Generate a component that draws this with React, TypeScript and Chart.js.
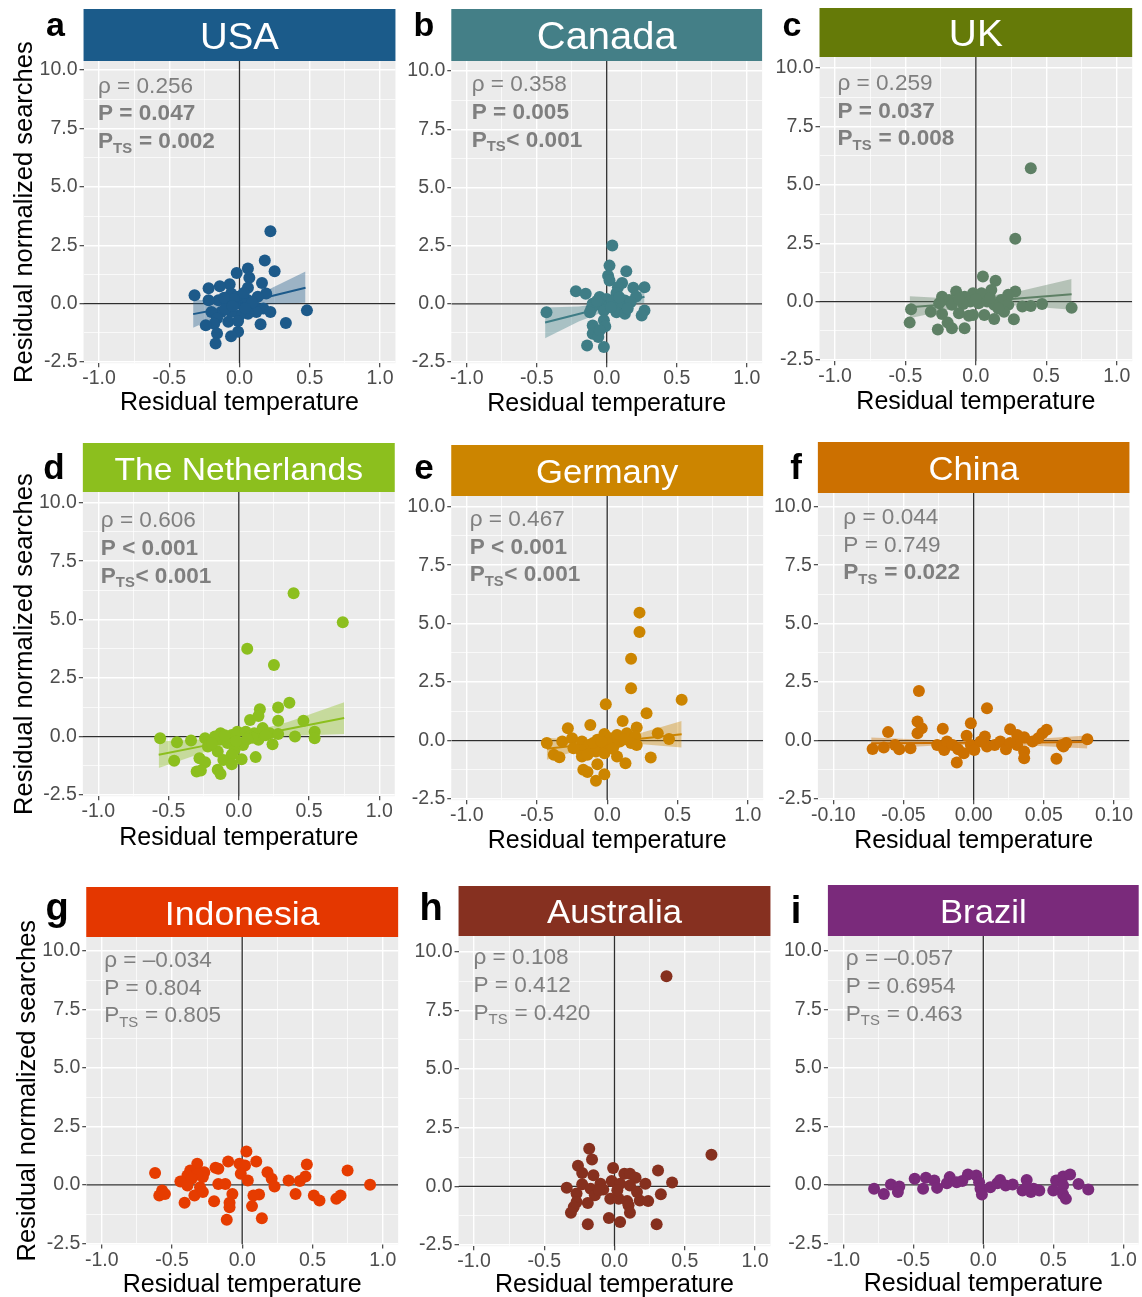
import React, { useEffect, useRef } from 'react';
import { Chart, registerables } from 'chart.js';

Chart.register(...registerables);

const FONT = "'Liberation Sans', Arial, Helvetica, sans-serif";

// ---------- axes ----------
const Y_TICKS = [-2.5, 0, 2.5, 5, 7.5, 10];
const Y_TICK_LABELS = ['-2.5', '0.0', '2.5', '5.0', '7.5', '10.0'];
const Y_MINOR = [-1.25, 1.25, 3.75, 6.25, 8.75];
const X_TICKS = [-1, -0.5, 0, 0.5, 1];
const X_TICK_LABELS = ['-1.0', '-0.5', '0.0', '0.5', '1.0'];
const X_MINOR = [-0.75, -0.25, 0.25, 0.75];
const X_TICKS_CN = [-0.1, -0.05, 0, 0.05, 0.1];
const X_TICK_LABELS_CN = ['-0.10', '-0.05', '0.00', '0.05', '0.10'];
const X_MINOR_CN = [-0.075, -0.025, 0.025, 0.075];
const X_TITLE = 'Residual temperature';
const Y_TITLE = 'Residual normalized searches';

// ---------- USA ----------
const USA_X = [0.22,0.18,0.25,0.06,-0.02,0.07,0.16,0.06,-0.07,-0.14,-0.22,-0.32,0.19,0.13,-0.06,-0.02,0.01,-0.03,-0.08,-0.15,-0.22,0.06,0.11,0.17,0.22,0.12,0.06,0.00,-0.06,-0.13,-0.20,-0.16,-0.08,-0.01,-0.18,-0.24,0.15,0.33,0.48,-0.16,-0.01,-0.06,-0.17,-0.10,0.03,-0.04,0.09,-0.11,0.04,-0.05];
const USA_Y = [3.10,1.85,1.38,1.50,1.31,1.11,0.88,0.68,0.83,0.74,0.66,0.36,0.43,0.29,0.43,0.29,0.07,-0.03,0.07,0.14,0.14,0.14,-0.14,-0.21,-0.36,-0.36,-0.43,-0.50,-0.36,-0.36,-0.36,-0.64,-0.78,-0.74,-0.86,-0.93,-0.88,-0.83,-0.29,-1.28,-1.21,-1.40,-1.71,-0.21,0.45,0.20,0.05,0.25,-0.20,-0.10];
const USA_FIT_X = [-0.33, -0.15, 0.0, 0.2, 0.47];
const USA_FIT_Y = [-0.45, -0.24, -0.02, 0.28, 0.68];
const USA_FIT_LO = [-1.03, -0.54, -0.18, -0.02, 0.04];
const USA_FIT_HI = [0.20, 0.06, 0.14, 0.58, 1.37];
const USA_STATS = ['0.256', '= 0.047', ' = 0.002'];
const USA_BOLD = [false, true, true];

// ---------- Canada ----------
const CAN_X = [0.04,0.02,0.01,0.14,0.02,0.11,0.08,0.19,0.27,-0.22,-0.15,0.21,0.07,-0.05,0.00,0.05,0.13,-0.10,-0.05,0.02,0.10,-0.11,-0.02,0.07,0.13,0.27,0.25,-0.43,-0.12,-0.02,-0.10,-0.01,-0.10,-0.06,-0.14,-0.02,-0.05,0.17,0.04,-0.07,0.09,0.15,0.03];
const CAN_Y = [2.50,1.64,1.21,1.40,1.00,0.89,0.71,0.69,0.71,0.54,0.43,0.31,0.46,0.29,0.21,0.17,0.14,0.00,-0.03,-0.07,-0.07,-0.21,-0.29,-0.36,-0.43,-0.29,-0.50,-0.36,-0.36,-0.71,-0.93,-0.97,-1.29,-1.43,-1.79,-1.86,-1.14,0.07,0.10,0.12,0.28,-0.20,-0.15];
const CAN_FIT_X = [-0.44, -0.2, 0.03, 0.15, 0.27];
const CAN_FIT_Y = [-0.80, -0.44, -0.08, 0.11, 0.30];
const CAN_FIT_LO = [-1.48, -0.76, -0.22, -0.09, 0.04];
const CAN_FIT_HI = [-0.16, -0.12, 0.06, 0.31, 0.56];
const CAN_STATS = ['0.358', '= 0.005', '< 0.001'];
const CAN_BOLD = [false, true, true];

// ---------- UK ----------
const UK_X = [0.39,0.28,0.05,0.14,0.11,-0.14,-0.24,0.28,0.23,-0.02,0.04,-0.08,-0.19,-0.04,0.08,0.18,-0.26,-0.17,-0.09,0.02,0.13,0.23,0.33,0.39,0.47,0.68,-0.46,-0.32,-0.24,-0.12,-0.02,0.06,0.13,0.27,-0.05,-0.47,-0.20,-0.17,-0.27,-0.08,0.20,0.10,-0.12,0.00,0.16];
const UK_Y = [5.71,2.69,1.07,0.89,0.50,0.43,0.21,0.43,0.29,0.36,0.36,0.21,0.07,0.00,0.00,0.07,-0.07,-0.14,-0.10,-0.07,-0.14,-0.14,-0.21,-0.19,-0.10,-0.26,-0.33,-0.43,-0.53,-0.50,-0.57,-0.57,-0.74,-0.76,-0.61,-0.90,-0.90,-1.14,-1.19,-1.14,-0.43,0.15,0.12,0.10,-0.30];
const UK_FIT_X = [-0.47, -0.2, 0.0, 0.3, 0.68];
const UK_FIT_Y = [-0.24, -0.11, -0.01, 0.13, 0.31];
const UK_FIT_LO = [-0.71, -0.36, -0.19, -0.17, -0.35];
const UK_FIT_HI = [0.23, 0.14, 0.17, 0.43, 0.97];
const UK_STATS = ['0.259', '= 0.037', ' = 0.008'];
const UK_BOLD = [false, true, true];

// ---------- The Netherlands ----------
const NL_X = [0.39,0.74,0.06,0.25,0.36,0.15,0.28,0.46,0.08,0.14,0.28,-0.56,-0.44,-0.34,-0.24,-0.20,-0.13,-0.05,-0.01,0.05,0.11,0.17,0.22,0.28,0.40,0.54,0.54,0.24,-0.14,-0.08,-0.22,-0.15,-0.03,0.03,0.14,-0.05,-0.11,0.02,0.12,-0.28,-0.24,-0.46,-0.05,-0.30,-0.27,-0.15,-0.13,-0.17,-0.10,0.08,0.19,-0.02,0.10,-0.19,0.06];
const NL_Y = [6.13,4.89,3.75,3.06,1.45,1.17,1.24,0.68,0.71,0.88,0.68,-0.07,-0.24,-0.17,-0.07,-0.21,0.14,0.07,0.21,0.21,0.14,0.36,0.14,0.11,0.00,0.21,-0.07,-0.33,-0.14,-0.28,-0.43,-0.64,-0.57,-0.36,-0.14,-0.78,-1.00,-0.97,-0.88,-0.93,-1.10,-1.04,-1.18,-1.50,-1.45,-1.42,-1.60,0.00,0.05,0.00,0.05,-0.20,-0.05,-0.30,-0.12];
const NL_FIT_X = [-0.57, -0.25, 0.0, 0.35, 0.75];
const NL_FIT_Y = [-0.78, -0.40, -0.10, 0.32, 0.79];
const NL_FIT_LO = [-1.35, -0.68, -0.27, 0.02, 0.11];
const NL_FIT_HI = [-0.21, -0.12, 0.07, 0.62, 1.47];
const NL_STATS = ['0.606', '< 0.001', '< 0.001'];
const NL_BOLD = [false, true, true];

// ---------- Germany ----------
const DE_X = [0.23,0.23,0.17,0.17,0.53,-0.01,0.28,0.11,-0.12,-0.28,0.21,0.36,0.44,-0.43,-0.32,-0.25,-0.18,-0.13,-0.07,-0.02,0.02,0.07,0.14,0.20,0.17,0.09,0.05,-0.05,-0.08,-0.02,-0.19,-0.24,-0.38,-0.34,-0.18,-0.14,0.07,0.13,0.31,0.21,-0.07,-0.17,-0.14,-0.02,-0.08,0.00,-0.10,0.12,-0.04,0.04];
const DE_Y = [5.47,4.64,3.50,2.24,1.74,1.55,1.17,0.84,0.66,0.53,0.56,0.31,0.07,-0.11,-0.04,0.10,-0.04,-0.19,0.03,0.28,0.10,0.24,0.31,0.17,-0.11,-0.04,-0.19,-0.26,-0.47,-0.54,-0.40,-0.33,-0.61,-0.71,-0.68,-0.61,-0.68,-0.97,-0.73,-0.19,-1.01,-1.25,-1.35,-1.44,-1.72,-0.11,-0.10,0.05,-0.05,-0.35];
const DE_FIT_X = [-0.43, -0.2, 0.0, 0.25, 0.53];
const DE_FIT_Y = [-0.35, -0.20, -0.07, 0.09, 0.27];
const DE_FIT_LO = [-0.82, -0.42, -0.21, -0.16, -0.30];
const DE_FIT_HI = [0.12, 0.02, 0.07, 0.34, 0.84];
const DE_STATS = ['0.467', '< 0.001', '< 0.001'];
const DE_BOLD = [false, true, true];

// ---------- China ----------
const CN_X = [-0.039,0.0095,-0.040,-0.037,-0.040,-0.061,-0.022,-0.002,0.026,0.052,0.049,0.008,-0.005,0.031,0.036,-0.072,-0.064,-0.056,-0.053,-0.045,-0.026,-0.021,-0.019,-0.015,-0.011,-0.007,-0.012,-0.002,0.0005,0.0095,0.015,0.019,0.023,0.031,0.036,0.036,0.042,0.046,0.059,0.063,0.066,0.081,0.064,0.005,0.026];
const CN_Y = [2.12,1.38,0.81,0.53,0.31,0.36,0.50,0.74,0.48,0.46,0.31,0.17,0.20,0.24,0.14,-0.36,-0.30,-0.19,-0.37,-0.33,-0.19,-0.40,-0.04,-0.19,-0.37,-0.54,-0.94,-0.19,-0.40,-0.26,-0.19,-0.04,-0.37,-0.19,-0.47,-0.76,-0.04,0.10,-0.78,-0.19,-0.11,0.06,-0.26,-0.04,-0.11];
const CN_FIT_X = [-0.073, -0.03, 0.0, 0.04, 0.081];
const CN_FIT_Y = [-0.12, -0.10, -0.09, -0.08, -0.06];
const CN_FIT_LO = [-0.37, -0.22, -0.18, -0.21, -0.34];
const CN_FIT_HI = [0.13, 0.02, 0.0, 0.05, 0.22];
const CN_STATS = ['0.044', '= 0.749', ' = 0.022'];
const CN_BOLD = [false, false, true];

// ---------- Indonesia ----------
const ID_X = [0.03,-0.10,0.10,-0.32,-0.02,0.02,0.46,0.75,-0.62,-0.37,-0.27,-0.19,-0.17,0.18,-0.01,-0.39,-0.28,-0.32,-0.44,-0.36,0.04,0.21,0.33,0.41,0.45,-0.17,-0.12,-0.39,-0.30,0.23,0.91,-0.57,-0.59,-0.55,-0.07,-0.34,-0.28,0.12,0.08,0.38,0.51,0.55,0.67,0.70,-0.41,-0.20,-0.09,0.07,-0.09,-0.11,0.14];
const ID_Y = [1.43,1.00,1.00,0.90,0.90,0.83,0.87,0.61,0.51,0.61,0.54,0.73,0.69,0.54,0.47,0.40,0.33,0.44,0.14,0.26,0.19,0.26,0.19,0.16,0.36,0.04,0.04,-0.03,-0.10,-0.07,0.00,-0.24,-0.46,-0.39,-0.39,-0.46,-0.31,-0.41,-0.46,-0.39,-0.46,-0.67,-0.60,-0.46,-0.77,-0.70,-0.77,-0.91,-0.96,-1.49,-1.43];
const ID_STATS = ['\u20130.034', '= 0.804', ' = 0.805'];
const ID_BOLD = [false, false, false];

// ---------- Australia ----------
const AU_X = [0.37,0.69,-0.18,-0.16,-0.26,-0.23,-0.15,-0.01,0.31,0.07,0.11,0.15,0.22,0.41,-0.34,-0.23,-0.10,-0.02,0.04,0.11,-0.08,-0.17,-0.27,-0.14,-0.03,0.03,0.09,0.18,0.24,0.33,0.16,-0.19,-0.27,-0.29,0.10,-0.31,0.11,-0.04,0.04,-0.19,0.30,-0.11,0.02];
const AU_Y = [8.95,1.35,1.60,1.14,0.88,0.57,0.47,0.78,0.68,0.54,0.54,0.37,0.11,0.16,-0.06,0.09,0.11,0.23,0.11,0.04,-0.14,-0.10,-0.31,-0.38,-0.53,-0.53,-0.63,-0.60,-0.63,-0.34,-0.24,-0.71,-0.67,-0.88,-0.81,-1.13,-1.13,-1.35,-1.52,-1.62,-1.62,-0.17,-0.17];
const AU_STATS = ['0.108', '= 0.412', ' = 0.420'];
const AU_BOLD = [false, false, false];

// ---------- Brazil ----------
const BR_X = [-0.78,-0.71,-0.66,-0.60,-0.61,-0.49,-0.43,-0.41,-0.35,-0.33,-0.24,-0.26,-0.19,-0.11,-0.15,-0.05,-0.03,-0.02,-0.01,0.05,0.10,0.12,0.16,0.21,0.28,0.31,0.34,0.36,0.40,0.50,0.52,0.57,0.62,0.57,0.57,0.59,0.68,0.75,0.31];
const BR_Y = [-0.17,-0.39,0.01,-0.07,-0.31,0.26,-0.17,0.30,0.19,-0.13,0.33,0.07,0.11,0.44,0.16,0.40,0.11,-0.17,-0.41,-0.10,0.07,0.21,-0.03,0.01,-0.24,0.21,-0.31,-0.17,-0.24,-0.24,0.19,0.36,0.44,-0.03,-0.41,-0.60,0.04,-0.20,-0.10];
const BR_STATS = ['\u20130.057', '= 0.6954', ' = 0.463'];
const BR_BOLD = [false, false, false];

// ---------- panel setup (layout in page pixels) ----------
const STD_X = { xTicks: X_TICKS, xLabels: X_TICK_LABELS, xMinor: X_MINOR, unit: 1 };
const CN_XAX = { xTicks: X_TICKS_CN, xLabels: X_TICK_LABELS_CN, xMinor: X_MINOR_CN, unit: 0.1 };

const PANELS = [
  { letter: 'a', title: 'USA', color: '#1B5B8A', pointColor: '#1D5A8A', band: 'rgba(29,90,138,0.38)',
    xs: USA_X, ys: USA_Y, fit: { x: USA_FIT_X, y: USA_FIT_Y, lo: USA_FIT_LO, hi: USA_FIT_HI }, stats: USA_STATS, bold: USA_BOLD, ax: STD_X,
    lay: { xNeg: 99, xPos: 380, y10: 70, yNeg: 362, top: 61, headerTop: 9, titleSize: 36.5, letterX: 55.5, letterY: 36, letterSize: 34, yTitle: true, yTitleX: 25, textDx: -1, textDy: 22.5, xGap: 49 } },
  { letter: 'b', title: 'Canada', color: '#447F87', pointColor: '#3F7D86', band: 'rgba(63,125,134,0.38)',
    xs: CAN_X, ys: CAN_Y, fit: { x: CAN_FIT_X, y: CAN_FIT_Y, lo: CAN_FIT_LO, hi: CAN_FIT_HI }, stats: CAN_STATS, bold: CAN_BOLD, ax: STD_X,
    lay: { xNeg: 466.7, xPos: 746.7, y10: 71, yNeg: 362, top: 61, headerTop: 9, titleSize: 38, letterX: 424, letterY: 36, letterSize: 34, yTitle: false, yTitleX: 0, textDx: 5, textDy: 20.3, xGap: 49.5 } },
  { letter: 'c', title: 'UK', color: '#657A08', pointColor: '#5E8065', band: 'rgba(94,128,101,0.38)',
    xs: UK_X, ys: UK_Y, fit: { x: UK_FIT_X, y: UK_FIT_Y, lo: UK_FIT_LO, hi: UK_FIT_HI }, stats: UK_STATS, bold: UK_BOLD, ax: STD_X,
    lay: { xNeg: 835, xPos: 1116.7, y10: 68, yNeg: 360, top: 57, headerTop: 8, titleSize: 37, letterX: 792, letterY: 36, letterSize: 34, yTitle: false, yTitleX: 0, textDx: 2.5, textDy: 21.7, xGap: 50 } },
  { letter: 'd', title: 'The Netherlands', color: '#8CBF1E', pointColor: '#8CBF1E', band: 'rgba(140,191,30,0.38)',
    xs: NL_X, ys: NL_Y, fit: { x: NL_FIT_X, y: NL_FIT_Y, lo: NL_FIT_LO, hi: NL_FIT_HI }, stats: NL_STATS, bold: NL_BOLD, ax: STD_X,
    lay: { xNeg: 98.3, xPos: 379.3, y10: 502.7, yNeg: 795, top: 492, headerTop: 443, titleSize: 32, letterX: 54, letterY: 479, letterSize: 35, yTitle: true, yTitleX: 25, textDx: 2.5, textDy: 24.5, xGap: 51 } },
  { letter: 'e', title: 'Germany', color: '#CC8500', pointColor: '#CC8500', band: 'rgba(204,133,0,0.38)',
    xs: DE_X, ys: DE_Y, fit: { x: DE_FIT_X, y: DE_FIT_Y, lo: DE_FIT_LO, hi: DE_FIT_HI }, stats: DE_STATS, bold: DE_BOLD, ax: STD_X,
    lay: { xNeg: 466.7, xPos: 747.7, y10: 506.7, yNeg: 799, top: 496, headerTop: 445, titleSize: 33, letterX: 424, letterY: 479, letterSize: 35, yTitle: false, yTitleX: 0, textDx: 3, textDy: 19, xGap: 50 } },
  { letter: 'f', title: 'China', color: '#CC7000', pointColor: '#CC7000', band: 'rgba(204,112,0,0.38)',
    xs: CN_X, ys: CN_Y, fit: { x: CN_FIT_X, y: CN_FIT_Y, lo: CN_FIT_LO, hi: CN_FIT_HI }, stats: CN_STATS, bold: CN_BOLD, ax: CN_XAX,
    lay: { xNeg: 833.3, xPos: 1114, y10: 506.7, yNeg: 799, top: 493, headerTop: 442, titleSize: 33, letterX: 796, letterY: 479, letterSize: 35, yTitle: false, yTitleX: 0, textDx: 10, textDy: 17, xGap: 50 } },
  { letter: 'g', title: 'Indonesia', color: '#E43700', pointColor: '#E63C00', band: '',
    xs: ID_X, ys: ID_Y, fit: null, stats: ID_STATS, bold: ID_BOLD, ax: STD_X,
    lay: { xNeg: 101.7, xPos: 382.7, y10: 951, yNeg: 1243.3, top: 937, headerTop: 887, titleSize: 34, letterX: 57, letterY: 920, letterSize: 38, yTitle: true, yTitleX: 27.5, textDx: 2.5, textDy: 15.7, xGap: 49.5 } },
  { letter: 'h', title: 'Australia', color: '#863020', pointColor: '#86301E', band: '',
    xs: AU_X, ys: AU_Y, fit: null, stats: AU_STATS, bold: AU_BOLD, ax: STD_X,
    lay: { xNeg: 474, xPos: 755, y10: 951.7, yNeg: 1245, top: 936, headerTop: 886, titleSize: 33, letterX: 431, letterY: 920, letterSize: 38, yTitle: false, yTitleX: 0, textDx: -0.5, textDy: 12.6, xGap: 48 } },
  { letter: 'i', title: 'Brazil', color: '#7A2A7B', pointColor: '#7A2A7B', band: '',
    xs: BR_X, ys: BR_Y, fit: null, stats: BR_STATS, bold: BR_BOLD, ax: STD_X,
    lay: { xNeg: 843.3, xPos: 1123.3, y10: 951, yNeg: 1243.3, top: 936, headerTop: 885, titleSize: 33, letterX: 796, letterY: 923, letterSize: 38, yTitle: false, yTitleX: 0, textDx: 2.5, textDy: 14, xGap: 48.5 } },
];

const TICK_SIZE = 19.5;
const XT_SIZE = 25;
const YT_SIZE = 25.5;
const STAT_SIZE = 21.5;
const STAT_LINE = 27.8;
const TEXT_SX = 1.05;
const POINT_R = 6;

function geom(p: any) {
  const l = p.lay;
  const u = p.ax.unit;
  const pxX = (l.xPos - l.xNeg) / (2 * u);
  const xMin = -1.11 * u;
  const xMax = 1.11 * u;
  const L = l.xNeg - 0.11 * u * pxX;
  const R = l.xPos + 0.11 * u * pxX;
  const pxY = (l.yNeg - l.y10) / 12.5;
  const yMax = 10 + (l.y10 - l.top) / pxY;
  const yMin = -2.55;
  const B = l.yNeg + 0.05 * pxY;
  const cl = Math.max(0, Math.floor(L - 80));
  const ct = Math.max(0, Math.floor(l.headerTop - 16));
  const cw = Math.ceil(R + 8 - cl);
  const ch = Math.ceil(B + 60 - ct);
  return { xMin, xMax, yMin, yMax, L, R, B, cl, ct, cw, ch,
    yAxisW: L - cl, xAxisH: ct + ch - B, padTop: l.top - ct, padRight: cw - (R - cl) };
}

const near = (arr: number[], v: number) => arr.findIndex((t) => Math.abs(t - v) < 1e-9);

function Panel({ p }: { p: any }) {
  const ref = useRef<HTMLCanvasElement | null>(null);
  const g = geom(p);
  useEffect(() => {
    const canvas = ref.current;
    if (!canvas) return;
    const l = p.lay;
    const ax = p.ax;
    const datasets: any[] = [];
    datasets.push({
      data: p.xs.map((x: number, i: number) => ({ x, y: p.ys[i] })),
      showLine: false, pointRadius: POINT_R, pointBorderWidth: 0,
      pointBackgroundColor: p.pointColor, pointBorderColor: p.pointColor,
      borderColor: p.pointColor, backgroundColor: p.pointColor,
    });
    if (p.fit) {
      datasets.push({
        data: p.fit.x.map((x: number, i: number) => ({ x, y: p.fit.y[i] })),
        borderColor: p.pointColor, borderWidth: 2, pointRadius: 0, fill: false,
      });
      datasets.push({
        data: p.fit.x.map((x: number, i: number) => ({ x, y: p.fit.hi[i] })),
        borderColor: 'rgba(0,0,0,0)', borderWidth: 0, pointRadius: 0,
        backgroundColor: p.band, fill: '+1',
      });
      datasets.push({
        data: p.fit.x.map((x: number, i: number) => ({ x, y: p.fit.lo[i] })),
        borderColor: 'rgba(0,0,0,0)', borderWidth: 0, pointRadius: 0, fill: false,
      });
    }
    datasets.push({
      data: [{ x: g.xMin, y: 0 }, { x: g.xMax, y: 0 }],
      borderColor: '#2E2E2E', borderWidth: 1.3, pointRadius: 0, fill: false,
    });
    datasets.push({
      data: [{ x: 0, y: g.yMin }, { x: 0, y: g.yMax }],
      borderColor: '#2E2E2E', borderWidth: 1.3, pointRadius: 0, fill: false,
    });

    const xTitlePad = g.ch - (g.B - g.ct + l.xGap - 0.3465 * XT_SIZE) - 0.6 * XT_SIZE;
    const yTitlePad = (l.yTitleX - g.cl) - 0.6 * YT_SIZE;

    const deco = {
      id: 'deco',
      beforeDraw(chart: any) {
        const { ctx, chartArea: a } = chart;
        ctx.save();
        ctx.fillStyle = '#EBEBEB';
        ctx.fillRect(a.left, a.top, a.right - a.left, a.bottom - a.top);
        ctx.restore();
      },
      afterDraw(chart: any) {
        const { ctx, chartArea: a, scales } = chart;
        // strip header
        const hTop = l.headerTop - g.ct;
        ctx.save();
        ctx.fillStyle = p.color;
        ctx.fillRect(a.left, hTop, a.right - a.left, a.top - hTop);
        ctx.fillStyle = '#FFFFFF';
        ctx.font = `${l.titleSize}px ${FONT}`;
        ctx.textAlign = 'center';
        ctx.textBaseline = 'alphabetic';
        ctx.translate((a.left + a.right) / 2, (hTop + a.top) / 2 + l.titleSize * 0.36 + 0.5);
        ctx.scale(TEXT_SX, 1);
        ctx.fillText(p.title, 0, 0);
        ctx.restore();
        // panel letter
        ctx.save();
        ctx.fillStyle = '#000000';
        ctx.font = `bold ${l.letterSize}px ${FONT}`;
        ctx.textAlign = 'center';
        ctx.textBaseline = 'alphabetic';
        ctx.fillText(p.letter, l.letterX - g.cl, l.letterY - g.ct);
        ctx.restore();
        // statistics
        const x0 = scales.x.getPixelForValue(-ax.unit) + l.textDx;
        const b0 = scales.y.getPixelForValue(10) + l.textDy;
        ctx.save();
        ctx.fillStyle = '#7F7F7F';
        ctx.textAlign = 'left';
        ctx.textBaseline = 'alphabetic';
        for (let i = 0; i < 3; i++) {
          const w = p.bold[i] ? 'bold ' : '';
          const main = `${w}${STAT_SIZE}px ${FONT}`;
          const sub = `${w}${STAT_SIZE * 0.66}px ${FONT}`;
          ctx.save();
          ctx.translate(x0, b0 + i * STAT_LINE);
          ctx.scale(TEXT_SX, 1);
          ctx.font = main;
          if (i === 0) {
            ctx.fillText('\u03C1 = ' + p.stats[0], 0, 0);
          } else if (i === 1) {
            ctx.fillText('P ' + p.stats[1], 0, 0);
          } else {
            ctx.fillText('P', 0, 0);
            const wp = ctx.measureText('P').width;
            ctx.font = sub;
            ctx.fillText('TS', wp, 4.5);
            const wts = ctx.measureText('TS').width;
            ctx.font = main;
            ctx.fillText(p.stats[2], wp + wts + 0.5, 0);
          }
          ctx.restore();
        }
        ctx.restore();
      },
    };

    const xAll = [...ax.xTicks, ...ax.xMinor].sort((a: number, b: number) => a - b);
    const yAll = [...Y_TICKS, ...Y_MINOR].sort((a, b) => a - b);

    const chart = new Chart(canvas, {
      type: 'line',
      data: { datasets },
      options: {
        responsive: false,
        animation: false,
        devicePixelRatio: 1,
        events: [],
        layout: { padding: { left: 0, top: g.padTop, right: g.padRight, bottom: 0 } },
        plugins: { legend: { display: false }, tooltip: { enabled: false }, title: { display: false } },
        scales: {
          x: {
            type: 'linear', position: 'bottom', min: g.xMin, max: g.xMax,
            afterBuildTicks: (s: any) => { s.ticks = xAll.map((v: number) => ({ value: v })); },
            afterFit: (s: any) => { s.height = g.xAxisH; },
            ticks: {
              autoSkip: false, maxRotation: 0, minRotation: 0, padding: 0,
              color: '#4D4D4D', font: { family: FONT, size: TICK_SIZE },
              callback: (v: any) => { const i = near(ax.xTicks, Number(v)); return i >= 0 ? ax.xLabels[i] : ''; },
            },
            grid: {
              color: '#FFFFFF',
              lineWidth: (c: any) => (c.tick && near(ax.xTicks, c.tick.value) >= 0 ? 1.4 : 0.7),
              tickColor: (c: any) => (c.tick && near(ax.xTicks, c.tick.value) >= 0 ? '#333333' : 'rgba(0,0,0,0)'),
              tickWidth: 1.1, tickLength: 4, drawTicks: true, drawOnChartArea: true,
            },
            border: { display: false },
            title: { display: true, text: X_TITLE, color: '#000000', font: { family: FONT, size: XT_SIZE }, padding: { top: 0, bottom: xTitlePad } },
          },
          y: {
            type: 'linear', position: 'left', min: g.yMin, max: g.yMax,
            afterBuildTicks: (s: any) => { s.ticks = yAll.map((v: number) => ({ value: v })); },
            afterFit: (s: any) => { s.width = g.yAxisW; },
            ticks: {
              autoSkip: false, padding: 2,
              color: '#4D4D4D', font: { family: FONT, size: TICK_SIZE },
              callback: (v: any) => { const i = near(Y_TICKS, Number(v)); return i >= 0 ? Y_TICK_LABELS[i] : ''; },
            },
            grid: {
              color: '#FFFFFF',
              lineWidth: (c: any) => (c.tick && near(Y_TICKS, c.tick.value) >= 0 ? 1.4 : 0.7),
              tickColor: (c: any) => (c.tick && near(Y_TICKS, c.tick.value) >= 0 ? '#333333' : 'rgba(0,0,0,0)'),
              tickWidth: 1.1, tickLength: 4, drawTicks: true, drawOnChartArea: true,
            },
            border: { display: false },
            title: { display: l.yTitle, text: Y_TITLE, color: '#000000', font: { family: FONT, size: YT_SIZE }, padding: { top: yTitlePad, bottom: 0 } },
          },
        },
      },
      plugins: [deco],
    } as any);
    return () => chart.destroy();
  }, []);
  return (
    <canvas
      ref={ref}
      width={g.cw}
      height={g.ch}
      style={{ position: 'absolute', left: g.cl, top: g.ct, width: g.cw, height: g.ch }}
    />
  );
}

export default function App() {
  return (
    <div style={{ position: 'absolute', left: 0, top: 0, width: 1142, height: 1297, overflow: 'hidden', background: '#FFFFFF' }}>
      {PANELS.map((p) => (
        <Panel key={p.letter} p={p} />
      ))}
    </div>
  );
}
